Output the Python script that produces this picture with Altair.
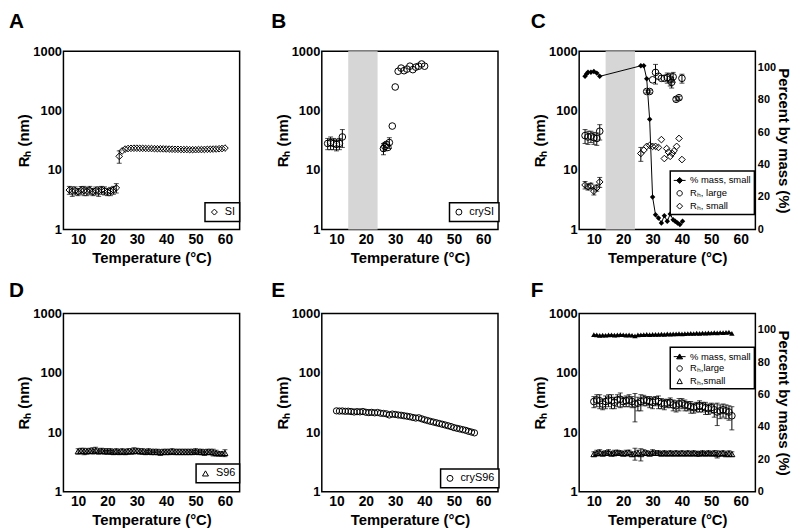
import altair as alt
import pandas as pd

FONT = "Liberation Sans"
W, H = 178, 180

# ---------------- data ----------------
# Panel A : SI
a_T = list(range(7, 61))
a_R = [4.6, 4.4, 4.5, 4.3, 4.6, 4.5, 4.4, 4.6, 4.3, 4.5, 4.4, 4.6, 4.5, 4.3, 4.4, 4.6,
       5.0, 17.0, 21.0,
       22.5, 23.0, 23.2, 23.3, 23.3, 23.2, 23.2, 23.1, 23.0, 23.0, 22.9, 22.8, 22.8, 22.7, 22.6,
       22.5, 22.4, 22.3, 22.3, 22.2, 22.1, 22.1, 22.0, 22.0, 22.0,
       22.1, 22.1, 22.2, 22.3, 22.4, 22.5, 22.6, 22.8, 23.0, 23.4]
a_err = [0.7, 0.8, 0.7, 0.6, 0.7, 0.8, 0.7, 0.7, 0.6, 0.7, 0.8, 0.7, 0.7, 0.6, 0.7, 0.7,
         0.9, 4.0] + [0] * 36

# Panel B : crySI
b_T = [7, 8, 9, 10, 11, 12, 26, 26.5, 27, 27.5, 28, 29, 30,
       31, 32, 33, 34, 35, 36, 37, 38, 39, 40]
b_R = [28, 29, 28, 27, 28, 36, 23, 25, 27, 24, 29, 55, 250,
       460, 520, 470, 500, 560, 490, 540, 560, 610, 560]
b_err = [6, 7, 6, 6, 6, 12, 5, 4, 0, 0, 6, 0, 0,
         0, 0, 0, 0, 0, 0, 0, 0, 0, 0]

# Panel C : crySI, two populations
c_T_large = [7, 8, 9, 10, 11, 12, 28, 29, 30, 31, 32, 33, 34, 35, 36, 36.5, 37, 38, 39, 40]
c_R_large = [38, 36, 37, 35, 34, 45, 210, 210, 330, 440, 380, 350, 350, 360, 340, 300, 370, 155, 165, 350]
c_err_large = [10, 9, 8, 8, 8, 13, 12, 12, 0, 160, 0, 0, 0, 70, 80, 60, 70, 10, 10, 60]
c_T_small = [7, 8, 9, 10, 11, 12, 26, 27, 28, 29, 30, 31, 32, 33, 34, 34.8, 35.4, 36, 36.7, 37.3, 38.2, 39, 40]
c_R_small = [5.6, 5.2, 5.4, 4.4, 5.0, 6.3, 19, 21.6, 25, 26, 25, 25, 24, 32.5, 15.6, 23, 20, 17, 19, 21, 25, 34, 15]
c_err_small = [0.8, 0.6, 0.6, 0.6, 0.6, 1.2, 5] + [0] * 16
c_T_pct = [7, 7.5, 8, 9, 10, 11, 12, 26, 27, 28, 29, 30,
           31, 32, 33, 34, 35, 36, 37, 37.7, 38.5, 39.3, 40.2]
c_pct = [94.5, 96, 97, 97, 97.5, 96.5, 94.5, 101, 101, 93, 68, 20,
         9, 7, 4, 8.5, 5, 9.5, 6, 5, 4, 3, 5]

# Panel D : S96
d_T = list(range(10, 61))
d_R = [4.8, 4.9, 4.8, 4.8, 4.9, 4.9, 5.0, 4.8, 4.9, 4.8,
       4.8, 4.8, 4.7, 4.8, 4.7, 4.8, 4.7, 4.8, 4.8, 4.9,
       4.9, 4.8, 4.8, 4.7, 4.8, 4.7, 4.7, 4.7, 4.6, 4.7,
       4.7, 4.7, 4.8, 4.7, 4.7, 4.7, 4.7, 4.7, 4.7, 4.7,
       4.8, 4.7, 4.7, 4.6, 4.7, 4.7, 4.6, 4.5, 4.4, 4.4, 4.5]
d_err = [0.5, 0.5, 0.6, 0.5, 0.5, 0.6, 0.6, 0.5, 0.5, 0.5,
         0.5, 0.5, 0.5, 0.5, 0.5, 0.5, 0.5, 0.5, 0.5, 0.6,
         0.5, 0.5, 0.5, 0.5, 0.5, 0.5, 0.5, 0.5, 0.5, 0.5,
         0.5, 0.5, 0.5, 0.5, 0.5, 0.5, 0.5, 0.5, 0.5, 0.5,
         0.5, 0.5, 0.5, 0.5, 0.5, 0.5, 0.6, 0.5, 0.3, 0.3, 0.6]

# Panel E : cryS96
e_T = list(range(10, 58))
e_R = [23.0, 22.8, 22.9, 22.6, 22.7, 22.4, 22.0, 22.3, 22.1, 22.4,
       21.8, 21.5, 21.7, 21.3, 21.6, 21.0, 20.8, 20.5, 19.6, 20.3,
       20.0, 19.6, 19.4, 19.0, 18.7, 18.3, 17.8, 17.4, 17.6, 16.9,
       16.3, 15.8, 15.3, 14.9, 14.5, 14.1, 13.7, 13.3, 12.9, 12.5,
       12.0, 11.7, 11.4, 11.1, 10.8, 10.4, 10.1, 9.8]

# Panel F : cryS96, two populations
f_T = list(range(10, 58))
f_pct = [97.0, 96.8, 96.5, 96.7, 96.6, 96.8, 96.9, 96.7, 96.8, 97.0,
         96.9, 96.7, 96.8, 96.6, 96.2, 96.8, 96.9, 97.0, 97.1, 97.0,
         97.1, 97.2, 97.1, 97.3, 97.2, 97.4, 97.3, 97.4, 97.5, 97.6,
         97.4, 97.6, 97.7, 97.8, 97.7, 97.9, 97.8, 98.0, 97.9, 98.1,
         98.0, 98.2, 98.1, 98.3, 98.2, 98.4, 98.5, 97.8]
f_large = [33, 35, 34, 30, 33, 35, 34, 32, 35, 36,
           33, 34, 35, 33, 30, 31, 33, 35, 34, 33,
           32, 34, 33, 31, 30, 31, 32, 29, 28, 30,
           31, 29, 28, 27, 26, 27, 28, 27, 26, 25,
           26, 24, 22, 23, 24, 23, 22, 19]
f_large_err = [7, 8, 9, 6, 8, 8, 9, 7, 8, 10,
               6, 7, 8, 7, 15, 8, 10, 7, 6, 7,
               7, 6, 8, 6, 6, 5, 6, 6, 6, 7,
               6, 6, 5, 6, 5, 5, 6, 5, 6, 5,
               5, 6, 9, 6, 6, 6, 6, 8]
f_small = [4.3, 4.5, 4.6, 4.4, 4.5, 4.6, 4.4, 4.5, 4.6, 4.5,
           4.4, 4.5, 4.6, 4.3, 4.4, 4.5, 4.3, 4.6, 4.5, 4.4,
           4.6, 4.5, 4.5, 4.4, 4.5, 4.4, 4.5, 4.4, 4.5, 4.4,
           4.5, 4.4, 4.5, 4.4, 4.5, 4.4, 4.4, 4.5, 4.4, 4.5,
           4.4, 4.5, 4.3, 4.4, 4.5, 4.3, 4.4, 4.3]
f_small_err = [0.4, 0.5, 0.5, 0.4, 0.4, 0.5, 0.4, 0.5, 0.4, 0.4,
               0.4, 0.5, 0.4, 0.4, 1.0, 0.5, 1.0, 0.5, 0.4, 0.4,
               0.5, 0.4, 0.4, 0.4, 0.4, 0.4, 0.4, 0.4, 0.4, 0.4,
               0.4, 0.4, 0.4, 0.4, 0.4, 0.4, 0.4, 0.4, 0.4, 0.4,
               0.4, 0.4, 0.6, 0.4, 0.4, 0.4, 0.5, 0.4]

band = [14, 24]
x_ticks = [10, 20, 30, 40, 50, 60]
y_ticks = [1, 10, 100, 1000]
pct_ticks = [0, 20, 40, 60, 80, 100]

# ---------------- helpers ----------------
AX = dict(labelFont=FONT, labelFontWeight="bold", labelColor="black",
          titleFont=FONT, titleFontWeight="bold", titleColor="black",
          ticks=False, domain=False, grid=False)
XAXIS = alt.Axis(values=x_ticks, title="Temperature (°C)", labelFontSize=14, titleFontSize=15,
                 labelPadding=3, titlePadding=4, **AX)
YAXIS = alt.Axis(values=y_ticks, format="d", title="Rₕ (nm)", labelFontSize=13, titleFontSize=15,
                 labelPadding=2, titlePadding=1, **AX)
PAXIS = alt.Axis(values=pct_ticks, orient="right", title="Percent by mass (%)", titleAngle=90,
                 labelFontSize=11, titleFontSize=15, labelPadding=2, titlePadding=0, **AX)
XSCALE = alt.Scale(domain=[5, 65], nice=False, zero=False)


def xq():
    return alt.X("T:Q", scale=XSCALE, axis=XAXIS)


def yq(field):
    return alt.Y(field, type="quantitative",
                 scale=alt.Scale(type="log", domain=[1, 1000], nice=False), axis=YAXIS)


def pq():
    return alt.Y("p:Q", scale=alt.Scale(domain=[0, 110], nice=False, zero=False), axis=PAXIS)


def leg(x, y, ssize=36, fill_open=True, fs=11, pad=4, off=5):
    kw = dict(title=None, orient="none", legendX=x, legendY=y, strokeColor="black",
              fillColor="white", padding=pad, labelFont=FONT, labelFontSize=fs,
              labelColor="black", symbolStrokeColor="black", symbolStrokeWidth=1,
              symbolSize=ssize, labelOffset=off, rowPadding=1, zindex=1, symbolOpacity=1)
    if fill_open:
        kw["symbolFillColor"] = "white"
    return alt.Legend(**kw)


def series(T, R, E, shape, size, name=None, legend=None):
    df = pd.DataFrame({"T": T, "R": R, "E": E})
    df["lo"] = df["R"] - df["E"]
    df["hi"] = df["R"] + df["E"]
    de = df[df["E"] > 0]
    out = []
    if len(de):
        caps = pd.DataFrame({"T": list(de["T"]) * 2, "c": list(de["lo"]) + list(de["hi"])})
        out.append(alt.Chart(de).mark_rule(color="black", strokeWidth=1)
                   .encode(x=xq(), y=yq("lo"), y2="hi:Q"))
        out.append(alt.Chart(caps).mark_tick(orient="horizontal", size=5, thickness=1, color="black")
                   .encode(x=xq(), y=yq("c")))
    enc = dict(x=xq(), y=yq("R"))
    if name is not None:
        df["s"] = name
        enc["shape"] = alt.Shape("s:N", scale=alt.Scale(domain=[name], range=[shape]), legend=legend)
    out.append(alt.Chart(df).mark_point(shape=shape, filled=False, color="black",
                                        strokeWidth=1, size=size, opacity=1).encode(**enc))
    return out


def letter(ch, dx, dy):
    return alt.Chart(pd.DataFrame({"t": [ch]})).mark_text(
        font=FONT, fontSize=21, fontWeight="bold", align="left", baseline="top",
        color="black").encode(text="t:N", x=alt.value(dx), y=alt.value(dy))


def band_layer():
    return alt.Chart(pd.DataFrame({"a": [band[0]], "b": [band[1]]})).mark_rect(
        color="#d6d6d6").encode(x=alt.X("a:Q", scale=XSCALE, axis=XAXIS),
                                x2="b:Q", y=alt.value(0), y2=alt.value(H))


def pct_layers(T, P, shape):
    df = pd.DataFrame({"T": T, "p": P})
    line = alt.Chart(df).mark_line(color="black", strokeWidth=1).encode(x=xq(), y=pq())
    pts = alt.Chart(df).mark_point(shape=shape, filled=True, color="black", size=30,
                                   opacity=1).encode(x=xq(), y=pq())
    return alt.layer(line, pts)


def dummy_legend(names, paths, fills, x, y):
    # legend-only layer; its three points sit under the (opaque) legend box
    df = pd.DataFrame({"s": names})
    lg = leg(x, y, ssize=144, fill_open=False, fs=9.5, pad=3, off=4)
    return alt.Chart(df).mark_point(filled=True, strokeWidth=1, size=4, opacity=1).encode(
        x=alt.value(x + 20), y=alt.value(y + 12),
        shape=alt.Shape("s:N", scale=alt.Scale(domain=names, range=paths), legend=lg),
        fill=alt.Fill("s:N", scale=alt.Scale(domain=names, range=fills), legend=lg),
        stroke=alt.Stroke("s:N", scale=alt.Scale(domain=names, range=["black"] * len(names)), legend=lg),
    )


P_CIRC = "M0.45,0A0.45,0.45,0,1,1,-0.45,0A0.45,0.45,0,1,1,0.45,0Z"
P_DIAM = "M0,-0.5L0.5,0L0,0.5L-0.5,0Z"
P_TRI = "M0,-0.45L0.45,0.38L-0.45,0.38Z"
P_LDIAM = "M-1,0L1,0M0,-0.5L0.5,0L0,0.5L-0.5,0Z"
P_LTRI = "M-1,0L1,0M0,-0.45L0.5,0.38L-0.5,0.38Z"

ROW1_DY, ROW2_DY = -40, -34

# ---------------- panels ----------------
A = alt.layer(*series(a_T, a_R, a_err, "diamond", 45, "SI", leg(143, 153)),
              letter("A", -55, ROW1_DY)).properties(width=W, height=H)

B = alt.layer(band_layer(), *series(b_T, b_R, b_err, "circle", 45, "crySI", leg(129, 153)),
              letter("B", -51, ROW1_DY)).properties(width=W, height=H)

c_names = ["% mass, small", "Rₕ, large", "Rₕ, small"]
C_inner = alt.layer(
    band_layer(),
    *series(c_T_large, c_R_large, c_err_large, "circle", 45),
    *series(c_T_small, c_R_small, c_err_small, "diamond", 45),
    dummy_legend(c_names, [P_LDIAM, P_CIRC, P_DIAM], ["black", "white", "white"], 92, 121),
    letter("C", -49, ROW1_DY),
)
C = alt.layer(C_inner, pct_layers(c_T_pct, c_pct, "diamond")).resolve_scale(
    y="independent").properties(width=W, height=H)

D = alt.layer(*series(d_T, d_R, d_err, "triangle-up", 36, "S96", leg(134, 152)),
              letter("D", -55, ROW2_DY)).properties(width=W, height=H)

E = alt.layer(*series(e_T, e_R, [0] * len(e_T), "circle", 40, "cryS96", leg(120, 157)),
              letter("E", -51, ROW2_DY)).properties(width=W, height=H)

f_names = ["% mass, small", "Rₕ,large", "Rₕ,small"]
F_inner = alt.layer(
    *series(f_T, f_large, f_large_err, "circle", 45),
    *series(f_T, f_small, f_small_err, "triangle-up", 36),
    dummy_legend(f_names, [P_LTRI, P_CIRC, P_TRI], ["black", "white", "white"], 92, 34),
    letter("F", -49, ROW2_DY),
)
F = alt.layer(F_inner, pct_layers(f_T, f_pct, "triangle-up")).resolve_scale(
    y="independent").properties(width=W, height=H)

chart = (alt.concat(A, B, C, D, E, F, columns=3, spacing={"row": 13, "column": 29},
                    bounds="full", align="each")
         .resolve_scale(shape="independent", fill="independent", stroke="independent")
         .resolve_legend(shape="independent", fill="independent", stroke="independent")
         .properties(padding={"left": 0, "top": 0, "right": 0, "bottom": 0}, background="white")
         .configure_view(stroke="black", strokeWidth=1.5)
         .configure_legend(strokeWidth=1.5))

chart.save("out.html", embed_options={"renderer": "svg", "actions": False})
